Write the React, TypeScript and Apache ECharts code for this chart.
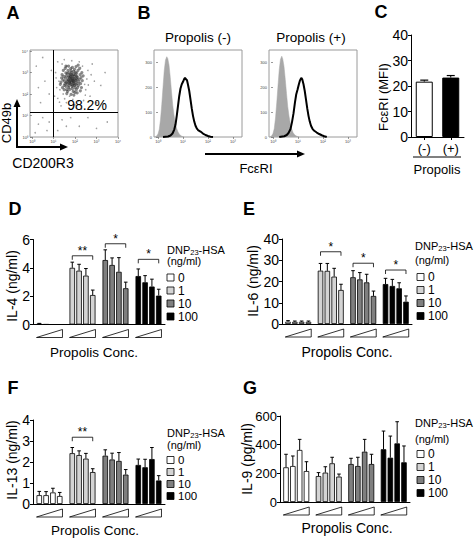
import { useEffect, useRef } from 'react';
import * as echarts from 'echarts';

const FONT = "'Liberation Sans', Arial, Helvetica, sans-serif";

// ---------------- Panel A: CD200R3 / CD49b dot plot (log10 units) ----------------
const flowCore: number[][] = [
  [1.86, 2.65], [1.8, 2.7], [1.92, 2.6], [1.75, 2.58], [1.98, 2.72], [1.7, 2.8], [1.88, 2.85], [1.95, 2.48], [1.82, 2.45], [2.05, 2.62],
  [1.66, 2.66], [1.78, 2.92], [2.02, 2.88], [1.6, 2.52], [2.1, 2.5], [1.9, 2.4], [1.72, 2.38], [2.0, 2.3], [1.84, 3.0], [1.64, 2.95],
  [2.12, 2.78], [1.56, 2.74], [1.94, 3.05], [2.08, 2.98], [1.76, 2.22], [1.88, 2.25], [2.16, 2.4], [1.52, 2.6], [1.68, 3.1], [1.98, 3.15],
  [2.2, 2.68], [1.58, 2.36], [2.06, 2.2], [1.8, 3.18], [2.24, 2.9], [1.48, 2.82], [1.62, 2.2], [1.92, 2.12], [2.14, 3.1], [1.74, 2.52],
  [1.84, 2.56], [1.96, 2.82], [1.7, 2.66], [2.04, 2.44], [1.8, 2.8], [1.9, 2.74], [1.78, 2.48], [2.0, 2.56], [1.86, 2.36], [1.66, 2.46],
  [1.94, 2.92], [2.1, 2.66], [1.74, 2.76], [1.6, 2.84], [2.18, 2.56], [1.54, 2.48], [1.82, 3.08], [2.02, 3.0], [1.72, 2.98], [1.92, 2.52],
  [1.86, 2.9], [1.78, 2.62], [1.98, 2.4], [2.08, 2.84], [1.64, 2.58], [1.9, 2.62], [1.84, 2.74], [1.76, 2.86], [1.96, 2.66], [2.06, 2.74],
  [1.7, 2.3], [2.12, 2.3], [1.58, 2.98], [2.26, 2.48], [1.5, 2.4], [1.44, 2.66], [2.28, 2.76], [1.88, 3.24], [1.66, 2.12], [2.0, 2.08],
  [1.35, 2.55], [1.4, 2.9], [1.42, 2.3], [1.46, 3.1], [2.3, 2.3], [2.34, 2.62], [2.32, 3.0], [2.22, 3.2], [1.55, 3.2], [1.62, 2.02],
  [1.82, 1.98], [2.1, 2.05], [1.38, 2.75], [2.38, 2.85], [1.7, 3.3], [2.05, 3.28], [1.5, 2.2], [2.25, 2.15], [1.95, 1.95], [2.15, 3.35],
  [1.58, 3.3], [1.32, 2.45],
];
const flowSparse: number[][] = [
  [1.2, 1.8], [1.3, 2.2], [1.1, 3.0], [1.4, 3.4], [2.5, 2.2], [2.6, 3.1], [2.4, 1.7], [1.6, 1.6], [2.9, 2.6], [1.25, 2.6],
  [2.7, 1.9], [1.5, 3.6], [2.2, 3.5], [1.35, 1.45], [2.0, 1.5], [2.8, 3.4], [3.2, 2.4], [1.15, 2.3], [2.3, 1.3], [1.05, 1.9],
  [3.0, 1.6], [2.55, 2.7], [1.75, 1.9], [2.35, 3.3], [1.45, 2.0], [1.9, 1.75], [1.6, 3.3], [2.45, 2.45], [3.4, 3.0], [1.2, 3.5],
  [1.28, 1.62], [2.62, 2.42], [1.85, 3.55], [2.48, 1.95], [1.12, 2.75], [2.75, 2.9], [1.52, 1.78], [2.15, 1.68],
  [0.4, 1.6], [0.6, 2.6], [0.2, 3.3], [0.8, 2.0], [0.5, 3.7], [0.3, 2.3], [0.9, 3.1],
  [0.3, 0.6], [0.7, 0.3], [0.5, 0.9], [0.15, 0.2], [0.8, 0.7],
  [1.4, 0.8], [2.2, 0.5], [1.8, 0.9], [3.0, 0.4], [1.2, 0.3], [2.6, 0.9], [1.6, 0.5], [3.5, 0.7],
];
const flowGateX = 1.0;
const flowGateY = 1.15;
const flowPercentLabel = '98.2%';
const flowDecades = [0, 1, 2, 3, 4];
const flowDecadeLabels = ['10⁰', '10¹', '10²', '10³', '10⁴'];

// ---------------- Panel B: FcεRI histograms (x = log10 fluorescence) ----------------
const histDecades = [0, 1, 2, 3];
const histDecadeLabels = ['10⁰', '10¹', '10²', '10³'];
const histCountTicks = [0, 100, 200, 300];
const histTitles = ['Propolis (-)', 'Propolis (+)'];
const isotypeMinus: number[][] = [
  [-0.12, 0], [-0.05, 4], [0.0, 12], [0.05, 30], [0.1, 70], [0.15, 130], [0.2, 200], [0.25, 268], [0.3, 310], [0.35, 323], [0.39, 316],
  [0.44, 290], [0.49, 240], [0.54, 182], [0.59, 128], [0.64, 88], [0.69, 58], [0.74, 36], [0.8, 20], [0.87, 9], [0.95, 3], [1.05, 0],
];
const isotypePlus: number[][] = [
  [-0.12, 0], [-0.05, 5], [0.0, 14], [0.05, 34], [0.1, 76], [0.15, 138], [0.2, 206], [0.25, 272], [0.3, 313], [0.35, 325], [0.39, 314],
  [0.44, 284], [0.49, 232], [0.54, 175], [0.59, 122], [0.64, 84], [0.69, 55], [0.74, 34], [0.8, 18], [0.87, 8], [0.95, 3], [1.05, 0],
];
const fcerMinus: number[][] = [
  [0.2, 0], [0.4, 2], [0.5, 6], [0.58, 14], [0.65, 30], [0.7, 50], [0.75, 85], [0.8, 125], [0.85, 165], [0.9, 195],
  [0.95, 212], [1.0, 222], [1.05, 234], [1.08, 238], [1.12, 232], [1.16, 228], [1.2, 210], [1.25, 185], [1.3, 150], [1.35, 115],
  [1.4, 85], [1.45, 62], [1.5, 45], [1.55, 35], [1.6, 28], [1.7, 22], [1.8, 14], [1.9, 8], [2.0, 4], [2.1, 1], [2.2, 0],
];
const fcerPlus: number[][] = [
  [0.25, 0], [0.45, 3], [0.55, 8], [0.62, 16], [0.7, 32], [0.76, 60], [0.82, 95], [0.88, 140], [0.93, 172], [0.98, 190],
  [1.03, 210], [1.08, 228], [1.13, 238], [1.17, 232], [1.22, 212], [1.27, 185], [1.32, 150], [1.37, 115], [1.42, 85], [1.47, 62],
  [1.52, 45], [1.58, 33], [1.65, 25], [1.75, 18], [1.85, 12], [1.95, 7], [2.05, 3], [2.15, 0],
];

// ---------------- Panel C: FcεRI MFI ----------------
const cCategories = ['(-)', '(+)'];
const cValues = [21.7, 23.3];
const cErrors = [0.6, 0.8];
const cColors = ['#ffffff', '#000000'];

// ---------------- Panels D-G: cytokines; rows = DNP23-HSA dose, cols = propolis conc. ----------------
const doseLabels = ['0', '1', '10', '100'];
const doseColors = ['#ffffff', '#d4d4d4', '#7f7f7f', '#000000'];

const il4 = [[0.05, 0.01, 0, 0], [4.0, 3.8, 3.45, 2.08], [4.55, 4.2, 3.72, 2.56], [3.42, 2.98, 2.68, 2.04]];
const il4Err = [[0.03, 0, 0, 0], [0.4, 0.45, 0.5, 0.35], [0.72, 0.5, 1.0, 0.43], [0.5, 0.47, 0.52, 0.45]];
const il4Sig = ['', '**', '*', '*'];
const il4SigY = [0, 4.85, 5.7, 4.6];

const il6 = [[1.1, 1.0, 1.0, 1.0], [25.1, 25.0, 22.3, 16.0], [22.0, 21.0, 19.6, 13.2], [18.8, 17.9, 16.8, 10.5]];
const il6Err = [[0.5, 0.4, 0.4, 0.4], [3.4, 3.5, 3.9, 2.7], [3.1, 3.2, 3.8, 2.3], [2.7, 3.1, 2.6, 2.7]];
const il6Sig = ['', '*', '*', '*'];
const il6SigY = [0, 34, 28.6, 25.4];

const il13 = [[0.42, 0.42, 0.55, 0.38], [2.42, 2.33, 2.16, 1.52], [2.3, 2.12, 2.05, 1.4], [1.86, 1.75, 2.14, 1.12]];
const il13Err = [[0.18, 0.17, 0.2, 0.17], [0.27, 0.2, 0.25, 0.16], [0.28, 0.3, 0.4, 0.24], [0.28, 0.38, 0.55, 0.23]];
const il13Sig = ['', '**', '', ''];
const il13SigY = [0, 3.18, 0, 0];

const il9 = [[242, 251, 363, 216], [181, 205, 270, 177], [265, 251, 351, 265], [368, 309, 409, 277]];
const il9Err = [[91, 70, 74, 65], [24, 41, 42, 18], [40, 61, 86, 68], [127, 151, 151, 114]];
const il9Sig = ['', '', '', ''];
const il9SigY = [0, 0, 0, 0];

const BAR_W = 5.5;
const BAR_GAP = 0.24;
const PITCH = BAR_W * (1 + BAR_GAP);

function txt(x: number, y: number, text: string, size: number, extra: any = {}) {
  const align = extra.align || 'center';
  const valign = extra.valign || 'middle';
  return {
    type: 'text',
    x,
    y,
    rotation: extra.rotation || 0,
    z: 20,
    silent: true,
    style: {
      text,
      fontSize: size,
      fontFamily: FONT,
      fontWeight: extra.bold ? 'bold' : 'normal',
      fill: extra.fill || '#000',
      textAlign: align,
      align,
      textVerticalAlign: valign,
      verticalAlign: valign,
      lineHeight: extra.lineHeight,
    },
  };
}

function legend(x: number, yTitle: number, yUnit: number, rows: number[], boxX: number, labelX: number, labelSize: number) {
  const els: any[] = [];
  els.push({
    type: 'text',
    x,
    y: yTitle - 6,
    z: 20,
    silent: true,
    style: {
      text: '{a|DNP}{b|23}{a|-HSA}',
      fontFamily: FONT,
      fontSize: 11,
      fill: '#000',
      textAlign: 'left',
      align: 'left',
      textVerticalAlign: 'top',
      verticalAlign: 'top',
      rich: {
        a: { fontSize: 11, fontFamily: FONT, lineHeight: 12, verticalAlign: 'top', fill: '#000', color: '#000' },
        b: { fontSize: 7.5, fontFamily: FONT, lineHeight: 10, verticalAlign: 'bottom', fill: '#000', color: '#000' },
      },
    },
  });
  els.push(txt(x, yUnit, '(ng/ml)', 11, { align: 'left', lineHeight: 11 }));
  rows.forEach((ry, i) => {
    els.push({
      type: 'rect',
      z: 20,
      silent: true,
      shape: { x: boxX, y: ry - 3.5, width: 7, height: 7 },
      style: { fill: doseColors[i], stroke: '#000', lineWidth: 0.8 },
    });
    els.push(txt(labelX, ry, doseLabels[i], labelSize, { align: 'left', lineHeight: labelSize }));
  });
  return els;
}

interface BarPanel {
  grid: number;
  values: number[][];
  errors: number[][];
  sig: string[];
  sigY: number[];
  max: number;
  interval: number;
  labelSize: number;
}

const barPanels: BarPanel[] = [
  { grid: 4, values: il4, errors: il4Err, sig: il4Sig, sigY: il4SigY, max: 6, interval: 2, labelSize: 14 },
  { grid: 5, values: il6, errors: il6Err, sig: il6Sig, sigY: il6SigY, max: 40, interval: 10, labelSize: 14 },
  { grid: 6, values: il13, errors: il13Err, sig: il13Sig, sigY: il13SigY, max: 4, interval: 1, labelSize: 14 },
  { grid: 7, values: il9, errors: il9Err, sig: il9Sig, sigY: il9SigY, max: 600, interval: 200, labelSize: 13 },
];

function buildOption() {
  const grids = [
    { left: 30, top: 50, width: 88, height: 87, show: true, borderColor: '#9a9a9a', borderWidth: 1, backgroundColor: '#fff' },
    { left: 154, top: 50, width: 88, height: 87, show: true, borderColor: '#9a9a9a', borderWidth: 1, backgroundColor: '#fff' },
    { left: 269, top: 50, width: 88, height: 87, show: true, borderColor: '#9a9a9a', borderWidth: 1, backgroundColor: '#fff' },
    { left: 411, top: 35, width: 53, height: 102 },
    { left: 33, top: 239.5, width: 132, height: 85 },
    { left: 282, top: 239, width: 130, height: 85 },
    { left: 33, top: 420, width: 132, height: 84 },
    { left: 280, top: 416, width: 130, height: 86 },
  ].map((g) => ({ ...g, containLabel: false, outerBoundsMode: 'none' }));

  const tinyLabel = { fontSize: 4, color: '#444', fontFamily: FONT, margin: 2 };
  const xAxes: any[] = [];
  const yAxes: any[] = [];

  // A
  xAxes.push({
    gridIndex: 0, type: 'value', min: -0.09, max: 4,
    axisLine: { show: false }, splitLine: { show: false },
    axisTick: { show: true, customValues: flowDecades, length: 2, lineStyle: { color: '#555', width: 0.6 } },
    axisLabel: { ...tinyLabel, customValues: flowDecades, formatter: (v: number) => flowDecadeLabels[Math.round(v)] },
  });
  yAxes.push({
    gridIndex: 0, type: 'value', min: 0, max: 4.05,
    axisLine: { show: false }, splitLine: { show: false },
    axisTick: { show: true, customValues: flowDecades, length: 2, lineStyle: { color: '#555', width: 0.6 } },
    axisLabel: { ...tinyLabel, customValues: flowDecades, formatter: (v: number) => flowDecadeLabels[Math.round(v)] },
  });
  // B1, B2
  for (let i = 1; i <= 2; i++) {
    xAxes.push({
      gridIndex: i, type: 'value', min: -0.16, max: 3.36,
      axisLine: { show: false }, splitLine: { show: false },
      axisTick: { show: true, customValues: histDecades, length: 2, lineStyle: { color: '#555', width: 0.6 } },
      axisLabel: { ...tinyLabel, customValues: histDecades, formatter: (v: number) => histDecadeLabels[Math.round(v)] },
    });
    yAxes.push({
      gridIndex: i, type: 'value', min: 0, max: 350,
      axisLine: { show: false }, splitLine: { show: false },
      axisTick: { show: true, customValues: histCountTicks, length: 2, lineStyle: { color: '#555', width: 0.6 } },
      axisLabel: { ...tinyLabel, customValues: histCountTicks },
    });
  }
  // C
  xAxes.push({
    gridIndex: 3, type: 'category', data: cCategories,
    axisLine: { show: true, lineStyle: { color: '#000', width: 1 } },
    axisTick: { show: true, alignWithLabel: true, length: 3, lineStyle: { color: '#000' } },
    axisLabel: { fontSize: 13, color: '#000', fontFamily: FONT, margin: 5 },
    splitLine: { show: false },
  });
  yAxes.push({
    gridIndex: 3, type: 'value', min: 0, max: 40, interval: 10,
    axisLine: { show: true, lineStyle: { color: '#000', width: 1 } },
    axisTick: { show: true, length: 3, lineStyle: { color: '#000' } },
    axisLabel: { fontSize: 14, color: '#000', fontFamily: FONT, margin: 3 },
    splitLine: { show: false },
  });
  // D-G
  barPanels.forEach((p) => {
    xAxes.push({
      gridIndex: p.grid, type: 'category', data: doseLabels,
      axisLine: { show: true, lineStyle: { color: '#000', width: 1 } },
      axisTick: { show: false }, axisLabel: { show: false }, splitLine: { show: false },
    });
    yAxes.push({
      gridIndex: p.grid, type: 'value', min: 0, max: p.max, interval: p.interval,
      axisLine: { show: true, lineStyle: { color: '#000', width: 1 } },
      axisTick: { show: true, length: 3, lineStyle: { color: '#000' } },
      axisLabel: { fontSize: p.labelSize, color: '#000', fontFamily: FONT, margin: 3 },
      splitLine: { show: false },
    });
  });

  const series: any[] = [];
  // A scatter
  series.push({
    type: 'scatter', xAxisIndex: 0, yAxisIndex: 0, data: flowSparse, symbolSize: 1.6, silent: true,
    itemStyle: { color: '#8a8a8a' },
  });
  series.push({
    type: 'scatter', xAxisIndex: 0, yAxisIndex: 0, data: flowCore, symbolSize: 3.2, silent: true,
    itemStyle: { color: '#2a2a2a', opacity: 0.55 },
    markLine: {
      silent: true, symbol: 'none', label: { show: false },
      lineStyle: { color: '#000', width: 1, type: 'solid' },
      data: [{ xAxis: flowGateX }, { yAxis: flowGateY }],
    },
  });
  // B histograms
  const isos = [isotypeMinus, isotypePlus];
  const fcers = [fcerMinus, fcerPlus];
  for (let i = 0; i < 2; i++) {
    series.push({
      type: 'line', xAxisIndex: i + 1, yAxisIndex: i + 1, data: isos[i], symbol: 'none', silent: true,
      lineStyle: { width: 0.5, color: '#a8a8a8' }, areaStyle: { color: '#a8a8a8', opacity: 1 },
    });
    series.push({
      type: 'line', xAxisIndex: i + 1, yAxisIndex: i + 1, data: fcers[i], symbol: 'none', silent: true,
      lineStyle: { width: 2, color: '#000' },
    });
  }
  // C bars
  series.push({
    type: 'bar', xAxisIndex: 3, yAxisIndex: 3, barWidth: 17, silent: true,
    data: cValues.map((v, i) => ({ value: v, itemStyle: { color: cColors[i] } })),
    itemStyle: { borderColor: '#000', borderWidth: 1 },
  });
  series.push({
    type: 'custom', xAxisIndex: 3, yAxisIndex: 3, silent: true, clip: false, z: 5,
    data: cValues.map((v, i) => [i, v, cErrors[i]]),
    encode: { x: 0, y: 1 },
    renderItem: (_p: any, api: any) => {
      const i = api.value(0), v = api.value(1), e = api.value(2);
      const a = api.coord([i, v]);
      const b = api.coord([i, v + e]);
      return {
        type: 'group',
        children: [
          { type: 'line', shape: { x1: a[0], y1: a[1], x2: a[0], y2: b[1] }, style: { stroke: '#000', lineWidth: 1 } },
          { type: 'line', shape: { x1: a[0] - 4, y1: b[1], x2: a[0] + 4, y2: b[1] }, style: { stroke: '#000', lineWidth: 1.2 } },
        ],
      };
    },
  });

  // D-G
  barPanels.forEach((p) => {
    for (let c = 0; c < 4; c++) {
      series.push({
        type: 'bar', xAxisIndex: p.grid, yAxisIndex: p.grid, barWidth: BAR_W, barGap: `${BAR_GAP * 100}%`, silent: true,
        data: p.values.map((row, g) => ({ value: row[c], itemStyle: { color: doseColors[g] } })),
        itemStyle: { borderColor: '#000', borderWidth: 0.8 },
      });
    }
    const errData: number[][] = [];
    p.values.forEach((row, g) => row.forEach((v, c) => {
      if (p.errors[g][c] > 0) errData.push([g, c, v, p.errors[g][c]]);
    }));
    series.push({
      type: 'custom', xAxisIndex: p.grid, yAxisIndex: p.grid, silent: true, clip: false, z: 5,
      data: errData, encode: { x: 0, y: 2 },
      renderItem: (_pp: any, api: any) => {
        const g = api.value(0), c = api.value(1), v = api.value(2), e = api.value(3);
        const a = api.coord([g, v]);
        const b = api.coord([g, v + e]);
        const x = a[0] + (c - 1.5) * PITCH;
        return {
          type: 'group',
          children: [
            { type: 'line', shape: { x1: x, y1: a[1], x2: x, y2: b[1] }, style: { stroke: '#000', lineWidth: 1 } },
            { type: 'line', shape: { x1: x - 1.8, y1: b[1], x2: x + 1.8, y2: b[1] }, style: { stroke: '#000', lineWidth: 1 } },
          ],
        };
      },
    });
    // concentration wedges under each group
    series.push({
      type: 'custom', xAxisIndex: p.grid, yAxisIndex: p.grid, silent: true, clip: false,
      data: doseLabels.map((_d, g) => [g, 0]), encode: { x: 0, y: 1 },
      renderItem: (_pp: any, api: any) => {
        const a = api.coord([api.value(0), 0]);
        const h = 1.5 * PITCH + BAR_W / 2;
        return {
          type: 'polygon',
          shape: { points: [[a[0] - h, a[1] + 13], [a[0] + h, a[1] + 13], [a[0] + h, a[1] + 5]] },
          style: { fill: '#fff', stroke: '#000', lineWidth: 0.8 },
        };
      },
    });
    // significance brackets
    const sigData: number[][] = [];
    p.sig.forEach((s, g) => { if (s) sigData.push([g, p.sigY[g]]); });
    if (sigData.length) {
      series.push({
        type: 'custom', xAxisIndex: p.grid, yAxisIndex: p.grid, silent: true, clip: false, z: 6,
        data: sigData, encode: { x: 0, y: 1 },
        renderItem: (_pp: any, api: any) => {
          const g = api.value(0);
          const a = api.coord([g, api.value(1)]);
          const xl = a[0] - 1.5 * PITCH;
          const xr = a[0] + 1.5 * PITCH;
          return {
            type: 'group',
            children: [
              {
                type: 'polyline',
                shape: { points: [[xl, a[1] + 4], [xl, a[1]], [xr, a[1]], [xr, a[1] + 4]] },
                style: { stroke: '#000', lineWidth: 0.8, fill: null },
              },
              {
                type: 'text', x: a[0], y: a[1] + 1,
                style: {
                  text: p.sig[g], fontSize: 12, fontFamily: FONT, fill: '#000',
                  textAlign: 'center', align: 'center', textVerticalAlign: 'bottom', verticalAlign: 'bottom',
                },
              },
            ],
          };
        },
      });
    }
  });

  const graphics: any[] = [
    // panel letters
    txt(13, 13, 'A', 18, { bold: true }),
    txt(144, 13, 'B', 18, { bold: true }),
    txt(381, 12, 'C', 18, { bold: true }),
    txt(15, 209, 'D', 18, { bold: true }),
    txt(249, 209, 'E', 18, { bold: true }),
    txt(13, 388, 'F', 18, { bold: true }),
    txt(250, 388, 'G', 18, { bold: true }),
    // A
    txt(87, 105, flowPercentLabel, 14),
    txt(6, 123, 'CD49b', 13, { rotation: Math.PI / 2 }),
    txt(43, 163, 'CD200R3', 14),
    { type: 'line', silent: true, shape: { x1: 17, y1: 148, x2: 17, y2: 106 }, style: { stroke: '#000', lineWidth: 2 } },
    { type: 'polygon', silent: true, shape: { points: [[17, 99], [13.5, 107], [20.5, 107]] }, style: { fill: '#000' } },
    { type: 'line', silent: true, shape: { x1: 16, y1: 147, x2: 61, y2: 147 }, style: { stroke: '#000', lineWidth: 2 } },
    { type: 'polygon', silent: true, shape: { points: [[68, 147], [60, 143.5], [60, 150.5]] }, style: { fill: '#000' } },
    // B
    txt(198, 37, histTitles[0], 13.5),
    txt(311, 37, histTitles[1], 13.5),
    { type: 'line', silent: true, shape: { x1: 205, y1: 154, x2: 298, y2: 154 }, style: { stroke: '#000', lineWidth: 2 } },
    { type: 'polygon', silent: true, shape: { points: [[305, 154], [297, 150.5], [297, 157.5]] }, style: { fill: '#000' } },
    txt(256, 168, 'FcεRI', 13),
    // C
    txt(383, 97, 'FcεRI (MFI)', 13, { rotation: Math.PI / 2 }),
    { type: 'line', silent: true, shape: { x1: 413, y1: 157, x2: 461, y2: 157 }, style: { stroke: '#000', lineWidth: 1 } },
    txt(437, 169, 'Propolis', 13),
    // D-G titles
    txt(12, 286, 'IL-4 (ng/ml)', 14, { rotation: Math.PI / 2 }),
    txt(253, 281, 'IL-6 (ng/ml)', 14, { rotation: Math.PI / 2 }),
    txt(12, 460, 'IL-13 (ng/ml)', 14, { rotation: Math.PI / 2 }),
    txt(247, 459, 'IL-9 (pg/ml)', 14, { rotation: Math.PI / 2 }),
    txt(94, 352, 'Propolis Conc.', 13.5),
    txt(347, 352, 'Propolis Conc.', 14),
    txt(95, 530, 'Propolis Conc.', 13.5),
    txt(347, 528, 'Propolis Conc.', 14),
    ...legend(167, 250, 261, [277.5, 290.5, 303.5, 316.5], 167, 178, 12),
    ...legend(415, 246, 260, [277, 290, 303, 316], 417, 428, 12),
    ...legend(167, 433, 445, [460, 472, 484, 496], 167, 178, 11.5),
    ...legend(415, 423, 439, [454, 467, 480, 493], 417, 428, 12),
  ];

  return {
    animation: false,
    backgroundColor: '#fff',
    textStyle: { fontFamily: FONT },
    grid: grids,
    xAxis: xAxes,
    yAxis: yAxes,
    series,
    graphic: { elements: graphics },
  };
}

export default function App() {
  const ref = useRef<HTMLDivElement>(null);
  useEffect(() => {
    if (!ref.current) return;
    const chart = echarts.init(ref.current, undefined, { renderer: 'svg' });
    chart.setOption(buildOption() as any);
    return () => chart.dispose();
  }, []);
  return (
    <div
      ref={ref}
      style={{ position: 'absolute', left: 0, top: 0, width: 474, height: 538, background: '#fff' }}
    />
  );
}
